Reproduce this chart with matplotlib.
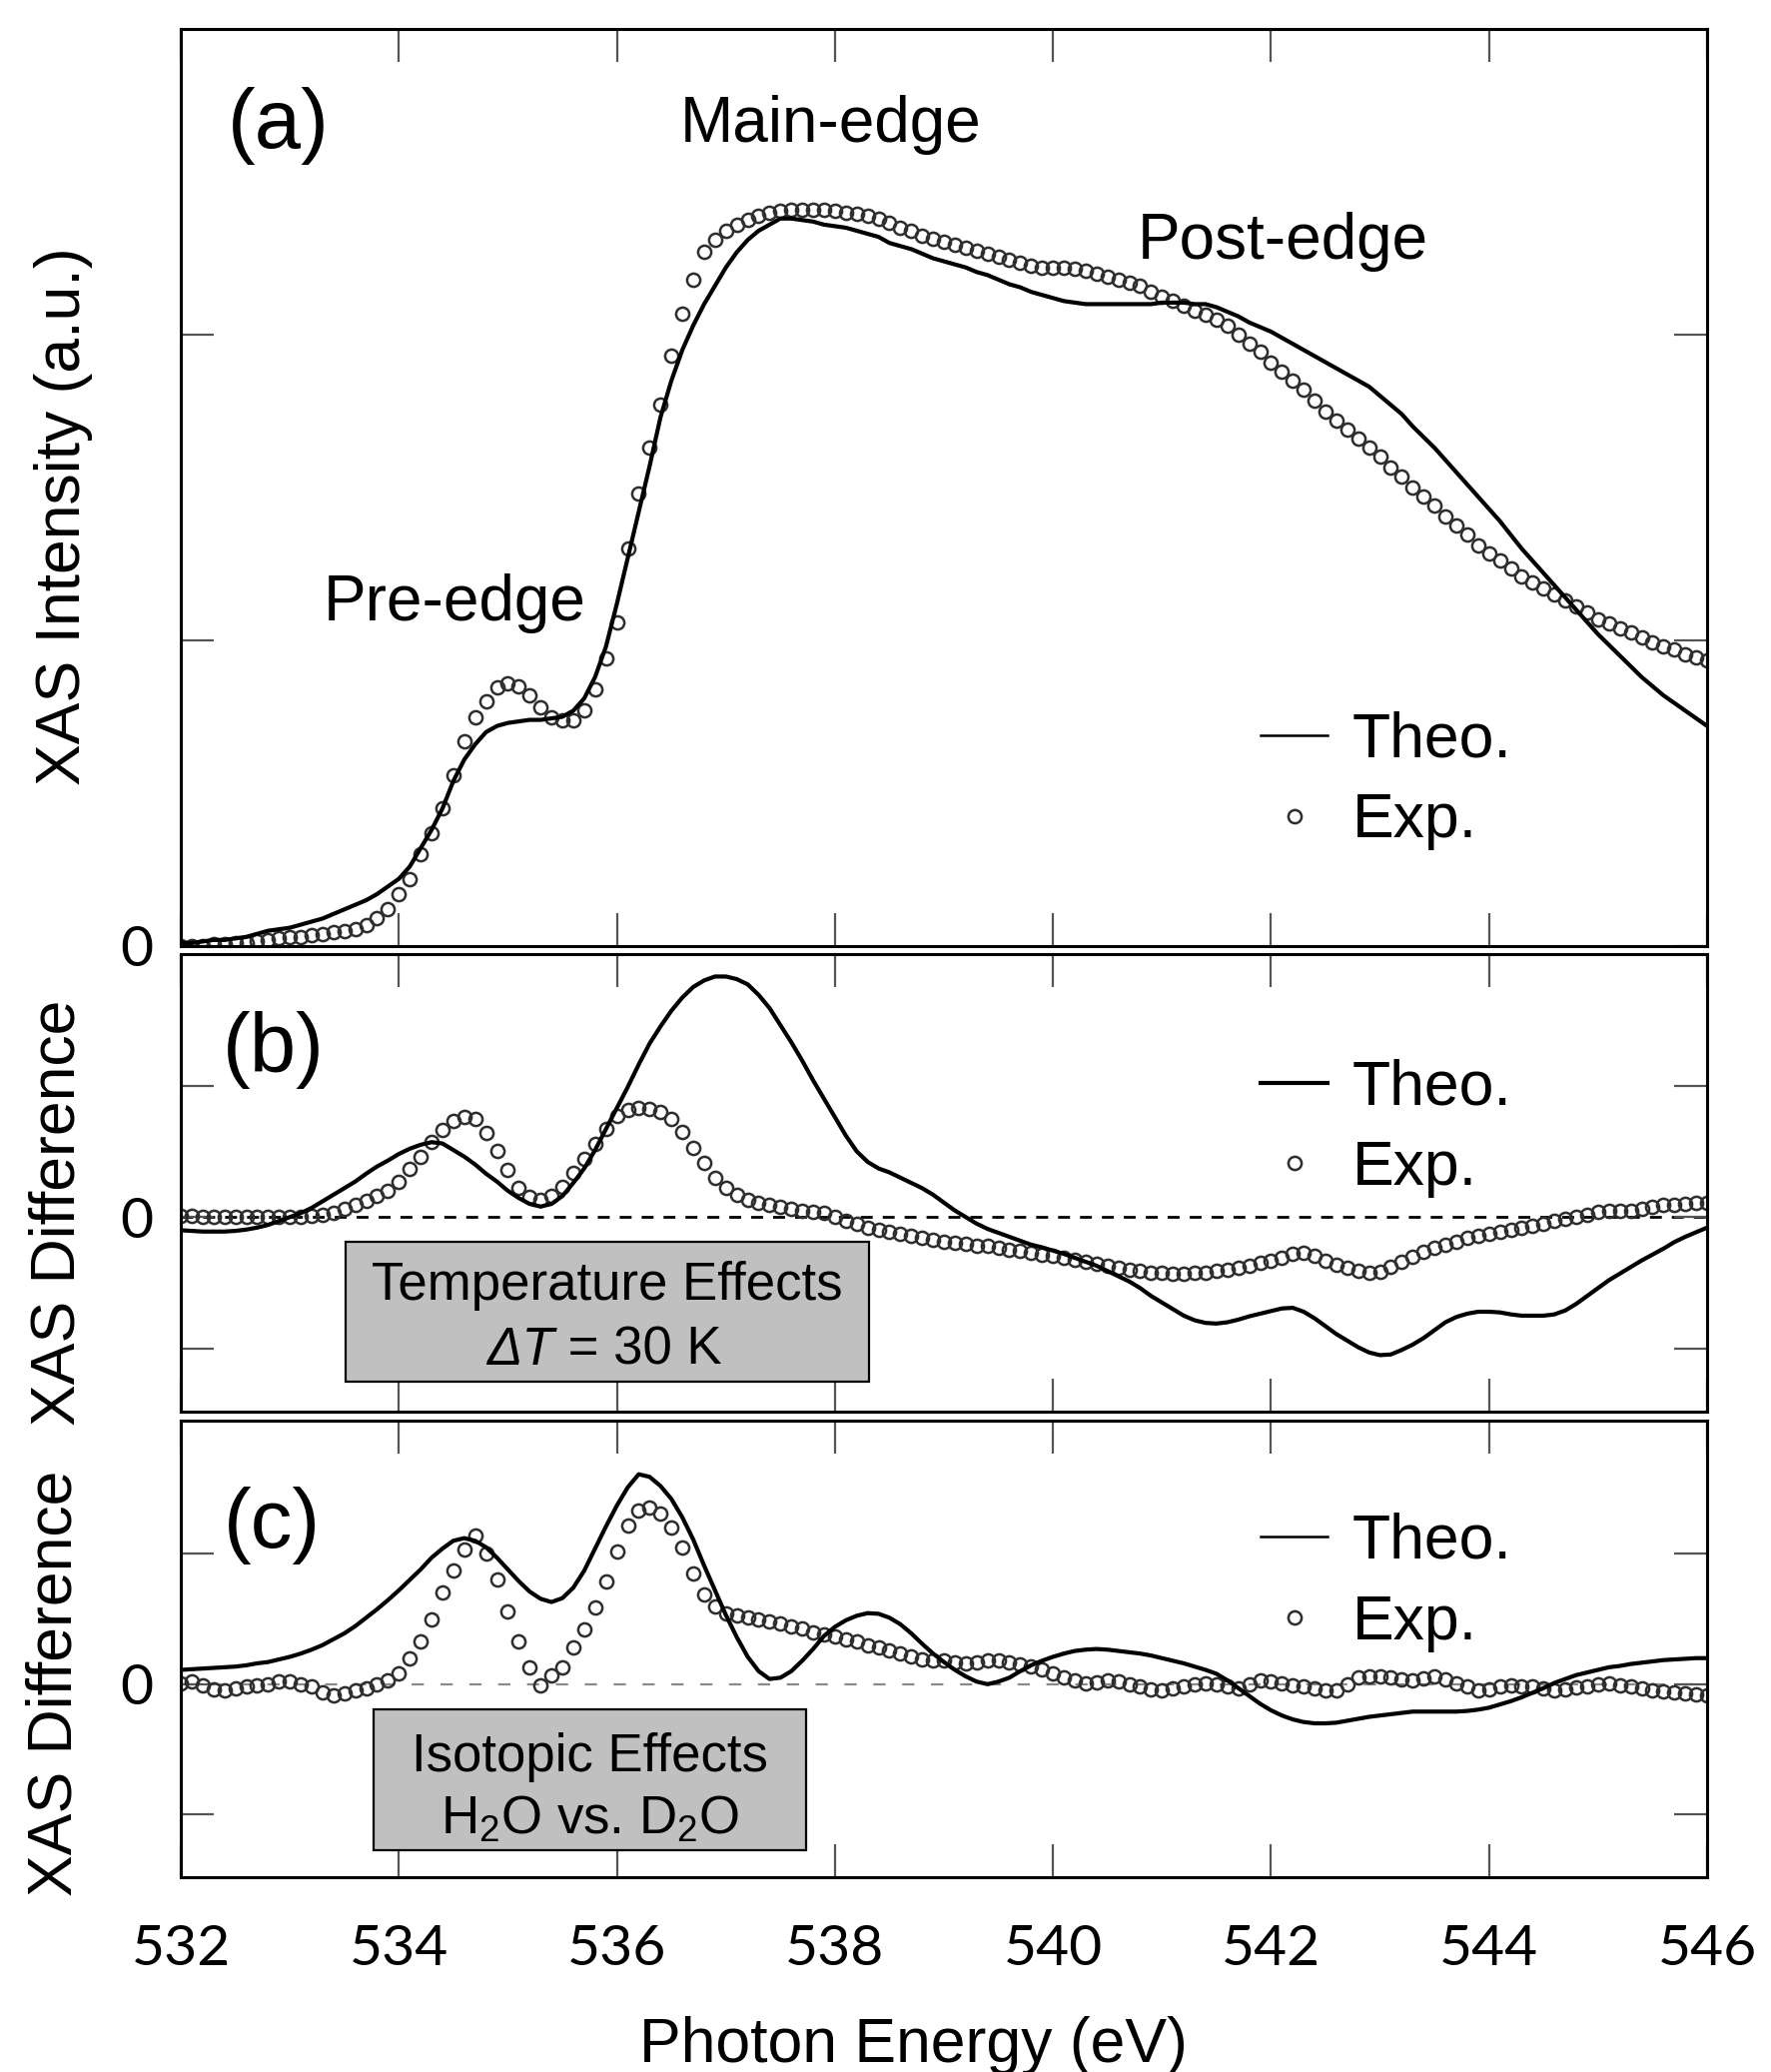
import numpy as np
import matplotlib
matplotlib.use('Agg')
import matplotlib.pyplot as plt
from matplotlib.patches import Rectangle

plt.rcParams['font.family'] = ['Liberation Sans', 'DejaVu Sans']
plt.rcParams['mathtext.fontset'] = 'custom'
plt.rcParams['mathtext.rm'] = 'Liberation Sans'
plt.rcParams['mathtext.it'] = 'Liberation Sans:italic'

# ---------------- data (0.1 eV steps) ----------------
energy = np.round(np.arange(532.0, 546.05, 0.1), 1)

theo_a = [
    0.01, 0.01, 0.015, 0.02, 0.02, 0.025, 0.03, 0.04, 0.05, 0.055,
    0.06, 0.07, 0.08, 0.09, 0.105, 0.12, 0.135, 0.15, 0.17, 0.195,
    0.22, 0.26, 0.32, 0.38, 0.45, 0.54, 0.61, 0.66, 0.70, 0.72,
    0.73, 0.735, 0.74, 0.74, 0.745, 0.75, 0.77, 0.81, 0.88, 0.98,
    1.12, 1.27, 1.42, 1.57, 1.73, 1.85, 1.95, 2.03, 2.10, 2.16,
    2.22, 2.27, 2.31, 2.34, 2.36, 2.38, 2.38, 2.375, 2.37, 2.36,
    2.355, 2.35, 2.34, 2.33, 2.32, 2.30, 2.29, 2.28, 2.265, 2.25,
    2.24, 2.23, 2.22, 2.205, 2.195, 2.18, 2.165, 2.155, 2.14, 2.13,
    2.12, 2.11, 2.105, 2.10, 2.10, 2.10, 2.10, 2.10, 2.10, 2.10,
    2.105, 2.105, 2.105, 2.10, 2.10, 2.09, 2.075, 2.06, 2.04, 2.025,
    2.01, 1.99, 1.97, 1.95, 1.93, 1.91, 1.89, 1.87, 1.85, 1.83,
    1.80, 1.77, 1.74, 1.70, 1.665, 1.63, 1.59, 1.55, 1.51, 1.47,
    1.43, 1.39, 1.345, 1.30, 1.26, 1.22, 1.18, 1.14, 1.10, 1.06,
    1.02, 0.985, 0.95, 0.915, 0.88, 0.85, 0.82, 0.795, 0.77, 0.745,
    0.72]

exp_a = [
    0.0, 0.0, 0.0, 0.005, 0.005, 0.01, 0.01, 0.015, 0.02, 0.025,
    0.03, 0.03, 0.035, 0.04, 0.045, 0.05, 0.055, 0.07, 0.09, 0.12,
    0.17, 0.22, 0.30, 0.37, 0.45, 0.56, 0.67, 0.75, 0.80, 0.845,
    0.86, 0.85, 0.82, 0.78, 0.75, 0.74, 0.74, 0.77, 0.84, 0.94,
    1.06, 1.30, 1.48, 1.63, 1.77, 1.93, 2.07, 2.18, 2.27, 2.31,
    2.34, 2.36, 2.375, 2.39, 2.40, 2.405, 2.41, 2.41, 2.41, 2.41,
    2.405, 2.40, 2.395, 2.39, 2.38, 2.365, 2.35, 2.34, 2.325, 2.315,
    2.305, 2.295, 2.285, 2.275, 2.265, 2.255, 2.245, 2.235, 2.225, 2.22,
    2.22, 2.22, 2.215, 2.21, 2.20, 2.19, 2.18, 2.17, 2.16, 2.14,
    2.125, 2.11, 2.095, 2.08, 2.065, 2.05, 2.03, 2.00, 1.97, 1.945,
    1.91, 1.88, 1.85, 1.82, 1.785, 1.75, 1.72, 1.69, 1.66, 1.63,
    1.60, 1.565, 1.535, 1.50, 1.47, 1.44, 1.405, 1.375, 1.345, 1.31,
    1.285, 1.26, 1.235, 1.21, 1.19, 1.17, 1.15, 1.13, 1.11, 1.09,
    1.07, 1.055, 1.04, 1.025, 1.01, 0.995, 0.98, 0.97, 0.955, 0.945,
    0.935]

theo_b = [
    -0.10, -0.105, -0.11, -0.11, -0.11, -0.105, -0.095, -0.08, -0.06, -0.03,
    0.00, 0.03, 0.07, 0.12, 0.17, 0.22, 0.27, 0.33, 0.385, 0.43,
    0.48, 0.52, 0.55, 0.57, 0.56, 0.51, 0.46, 0.40, 0.33, 0.27,
    0.20, 0.145, 0.10, 0.08, 0.10, 0.16, 0.26, 0.37, 0.51, 0.67,
    0.83, 0.99, 1.16, 1.32, 1.45, 1.57, 1.67, 1.75, 1.80, 1.83,
    1.83, 1.81, 1.77, 1.69, 1.59, 1.46, 1.33, 1.19, 1.04, 0.90,
    0.76, 0.62, 0.50, 0.42, 0.37, 0.34, 0.30, 0.26, 0.22, 0.17,
    0.11, 0.05, 0.00, -0.05, -0.09, -0.12, -0.15, -0.18, -0.21, -0.23,
    -0.255, -0.28, -0.31, -0.34, -0.37, -0.41, -0.45, -0.49, -0.54, -0.60,
    -0.65, -0.70, -0.75, -0.785, -0.805, -0.81, -0.80, -0.78, -0.755, -0.735,
    -0.715, -0.695, -0.69, -0.72, -0.77, -0.83, -0.89, -0.94, -0.99, -1.03,
    -1.05, -1.045, -1.01, -0.97, -0.92, -0.86, -0.80, -0.76, -0.735, -0.72,
    -0.72, -0.725, -0.74, -0.75, -0.75, -0.75, -0.74, -0.71, -0.66, -0.60,
    -0.54, -0.48, -0.43, -0.38, -0.33, -0.285, -0.24, -0.19, -0.15, -0.115,
    -0.08]

exp_b = [
    0.01, 0.01, 0.005, 0.0, 0.0, 0.0, 0.0, 0.0, 0.0, 0.0,
    0.0, 0.005, 0.01, 0.015, 0.03, 0.06, 0.09, 0.12, 0.16, 0.20,
    0.27, 0.37, 0.46, 0.57, 0.66, 0.73, 0.76, 0.745, 0.64, 0.50,
    0.36, 0.22, 0.155, 0.13, 0.16, 0.23, 0.34, 0.44, 0.56, 0.67,
    0.77, 0.815, 0.83, 0.825, 0.80, 0.75, 0.65, 0.53, 0.41, 0.30,
    0.22, 0.17, 0.13, 0.11, 0.09, 0.075, 0.06, 0.05, 0.04, 0.03,
    0.00, -0.03, -0.055, -0.08, -0.10, -0.115, -0.13, -0.145, -0.16, -0.175,
    -0.185, -0.195, -0.205, -0.215, -0.22, -0.235, -0.245, -0.26, -0.27, -0.285,
    -0.295, -0.31, -0.325, -0.34, -0.355, -0.37, -0.385, -0.40, -0.41, -0.42,
    -0.425, -0.43, -0.43, -0.425, -0.42, -0.41, -0.40, -0.385, -0.37, -0.35,
    -0.33, -0.31, -0.28, -0.27, -0.295, -0.33, -0.36, -0.385, -0.405, -0.42,
    -0.415, -0.38, -0.34, -0.30, -0.265, -0.235, -0.21, -0.185, -0.16, -0.145,
    -0.13, -0.11, -0.095, -0.08, -0.065, -0.05, -0.03, -0.015, 0.00, 0.02,
    0.04, 0.045, 0.05, 0.05, 0.06, 0.075, 0.09, 0.095, 0.10, 0.105,
    0.11]

theo_c = [
    0.11, 0.115, 0.12, 0.125, 0.13, 0.135, 0.145, 0.16, 0.17, 0.19,
    0.21, 0.235, 0.265, 0.30, 0.345, 0.39, 0.445, 0.51, 0.575, 0.645,
    0.72, 0.80, 0.88, 0.97, 1.04, 1.10, 1.12, 1.10, 1.05, 0.97,
    0.88, 0.79, 0.71, 0.655, 0.63, 0.66, 0.74, 0.87, 1.04, 1.21,
    1.37, 1.51, 1.61, 1.59, 1.52, 1.42, 1.28, 1.11, 0.91, 0.72,
    0.53, 0.36, 0.21, 0.10, 0.04, 0.05, 0.10, 0.18, 0.27, 0.37,
    0.44, 0.49, 0.525, 0.545, 0.54, 0.51, 0.46, 0.39, 0.31, 0.235,
    0.17, 0.11, 0.06, 0.02, 0.00, 0.02, 0.05, 0.10, 0.145, 0.18,
    0.21, 0.235, 0.255, 0.265, 0.27, 0.265, 0.255, 0.245, 0.235, 0.22,
    0.20, 0.18, 0.16, 0.135, 0.11, 0.08, 0.03, -0.03, -0.09, -0.15,
    -0.20, -0.24, -0.27, -0.29, -0.30, -0.30, -0.295, -0.28, -0.265, -0.25,
    -0.24, -0.23, -0.22, -0.21, -0.21, -0.21, -0.21, -0.21, -0.205, -0.195,
    -0.18, -0.155, -0.13, -0.10, -0.065, -0.03, 0.01, 0.04, 0.07, 0.09,
    0.11, 0.13, 0.14, 0.155, 0.165, 0.175, 0.185, 0.19, 0.195, 0.20,
    0.20]

exp_c = [
    0.01, 0.02, -0.01, -0.04, -0.05, -0.03, -0.02, -0.01, 0.0, 0.02,
    0.02, 0.0, -0.02, -0.06, -0.085, -0.07, -0.05, -0.03, 0.0, 0.03,
    0.08, 0.20, 0.33, 0.50, 0.70, 0.87, 1.03, 1.14, 1.00, 0.80,
    0.56, 0.33, 0.13, -0.01, 0.07, 0.13, 0.28, 0.42, 0.59, 0.79,
    1.02, 1.22, 1.33, 1.355, 1.31, 1.20, 1.05, 0.85, 0.69, 0.60,
    0.545, 0.53, 0.515, 0.50, 0.48, 0.465, 0.445, 0.425, 0.40, 0.38,
    0.365, 0.345, 0.325, 0.30, 0.28, 0.26, 0.235, 0.21, 0.19, 0.185,
    0.18, 0.165, 0.16, 0.17, 0.185, 0.18, 0.17, 0.155, 0.14, 0.11,
    0.08, 0.055, 0.03, 0.005, 0.015, 0.03, 0.02, 0.0, -0.02, -0.04,
    -0.05, -0.035, -0.02, -0.005, 0.005, 0.0, -0.02, -0.03, 0.0, 0.03,
    0.02, 0.005, -0.01, -0.02, -0.03, -0.045, -0.05, 0.0, 0.055, 0.06,
    0.06, 0.05, 0.035, 0.03, 0.045, 0.06, 0.04, 0.01, -0.02, -0.045,
    -0.04, -0.02, -0.01, -0.015, -0.02, -0.035, -0.05, -0.04, -0.025, -0.015,
    -0.005, 0.005, -0.01, -0.02, -0.035, -0.05, -0.055, -0.065, -0.07, -0.08,
    -0.085]

x_ticks = [532, 534, 536, 538, 540, 542, 544, 546]
x_tick_labels = ['532', '534', '536', '538', '540', '542', '544', '546']
series_labels = ['Theo.', 'Exp.']

for arr in (theo_a, exp_a, theo_b, exp_b, theo_c, exp_c):
    assert len(arr) == len(energy), len(arr)

# ---------------- figure ----------------
fig = plt.figure(figsize=(17.73, 20.74), dpi=100)
L, W = 0.1021, 0.8618
ax_a = fig.add_axes([L, 0.5434, W, 0.4426])
ax_b = fig.add_axes([L, 0.3187, W, 0.2208])
ax_c = fig.add_axes([L, 0.0940, W, 0.2203])

TICK_COLOR = '#555555'
MARKER_KW = dict(ls='none', marker='o', ms=9.5, mfc='none', mec='#2e2e2e', mew=1.8)

panels = [
    (ax_a, theo_a, exp_a, (0, 3.0), [0, 1, 2], ['0', '', ''], '(a)', (0.064, 0.894), (0.7075, 0.2565)),
    (ax_b, theo_b, exp_b, (-1.48, 2.0), [-1, 0, 1], ['', '0', ''], '(b)', (0.061, 0.791), (0.7075, 0.772)),
    (ax_c, theo_c, exp_c, (-1.48, 2.02), [-1, 0, 1], ['', '0', ''], '(c)', (0.0596, 0.771), (0.7075, 0.799)),
]

for i, (ax, th, ex, ylim, yt, ytl, tag, tagpos, legpos) in enumerate(panels):
    ax.set_xlim(532, 546)
    ax.set_ylim(*ylim)
    if i == 1:
        ax.axhline(0, color='black', lw=2, ls=(0, (4.3, 3.6)), zorder=1)
    elif i == 2:
        ax.axhline(0, color='#8a8a8a', lw=1.6, ls=(0, (5.5, 7.5)), zorder=1)
    ln, = ax.plot(energy, th, color='black', lw=3, label=series_labels[0], zorder=3)
    pt, = ax.plot(energy, ex, label=series_labels[1], zorder=2, **MARKER_KW)

    ax.set_xticks(x_ticks)
    if i == 2:
        ax.set_xticklabels(x_tick_labels, fontfamily='Lato', fontsize=41)
    else:
        ax.set_xticklabels([])
    ax.set_yticks(yt)
    ax.set_yticklabels(ytl, fontfamily='Lato', fontsize=41)
    ax.tick_params(axis='both', direction='in', length=24, width=1.6,
                   color=TICK_COLOR, top=True, right=True)
    ax.tick_params(axis='x', pad=34)
    ax.tick_params(axis='y', pad=20)
    for s in ax.spines.values():
        s.set_linewidth(2.2)
        s.set_color('black')

    ax.text(tagpos[0], tagpos[1], tag, transform=ax.transAxes, ha='center',
            va='center', fontsize=60)

    leg = ax.legend(loc='upper left', bbox_to_anchor=legpos, borderpad=0,
                    borderaxespad=0, handlelength=1.07, handletextpad=0.4,
                    labelspacing=0.35, frameon=False, fontsize=45)
    leg.get_lines()[0].set_linewidth(3 if i == 1 else 1.8)

# annotations in (a)
ax_a.text(537.96, 2.63, 'Main-edge', ha='center', va='baseline', fontsize=46)
ax_a.text(534.51, 1.064, 'Pre-edge', ha='center', va='baseline', fontsize=46)
ax_a.text(542.11, 2.25, 'Post-edge', ha='center', va='baseline', fontsize=46)

# boxes
ax_b.add_patch(Rectangle((533.51, -1.249), 4.80, 1.063, facecolor='#c0c0c0',
                         edgecolor='black', lw=1.6, zorder=5))
ax_b.text(535.91, -0.52, 'Temperature Effects', ha='center', va='center',
          fontsize=38, zorder=6)
dt = ax_b.text(534.80, -1.016, 'ΔT', ha='left', va='center', fontsize=38,
               fontstyle='italic', zorder=6)
ax_b.annotate(' = 30 K', xy=(1, 0), xycoords=dt, ha='left', va='bottom',
              fontsize=38, zorder=6)

ax_c.add_patch(Rectangle((533.77, -1.27), 3.97, 1.077, facecolor='#c0c0c0',
                         edgecolor='black', lw=1.6, zorder=5))
ax_c.text(535.755, -0.557, 'Isotopic Effects', ha='center', va='center',
          fontsize=38, zorder=6)
ax_c.text(535.755, -1.035, r'H$_2$O vs. D$_2$O', ha='center', va='center',
          fontsize=38, zorder=6)

# axis labels
fig.text(0.045, 0.751, 'XAS Intensity (a.u.)', rotation=90, ha='center',
         va='baseline', rotation_mode='anchor', fontsize=45)
fig.text(0.0423, 0.4147, 'XAS Difference', rotation=90, ha='center',
         va='baseline', rotation_mode='anchor', fontsize=45)
fig.text(0.0405, 0.1876, 'XAS Difference', rotation=90, ha='center',
         va='baseline', rotation_mode='anchor', fontsize=45)
fig.text(0.516, 0.005, 'Photon Energy (eV)', ha='center', va='baseline',
         fontsize=45)

fig.savefig('out.png', dpi=100)
